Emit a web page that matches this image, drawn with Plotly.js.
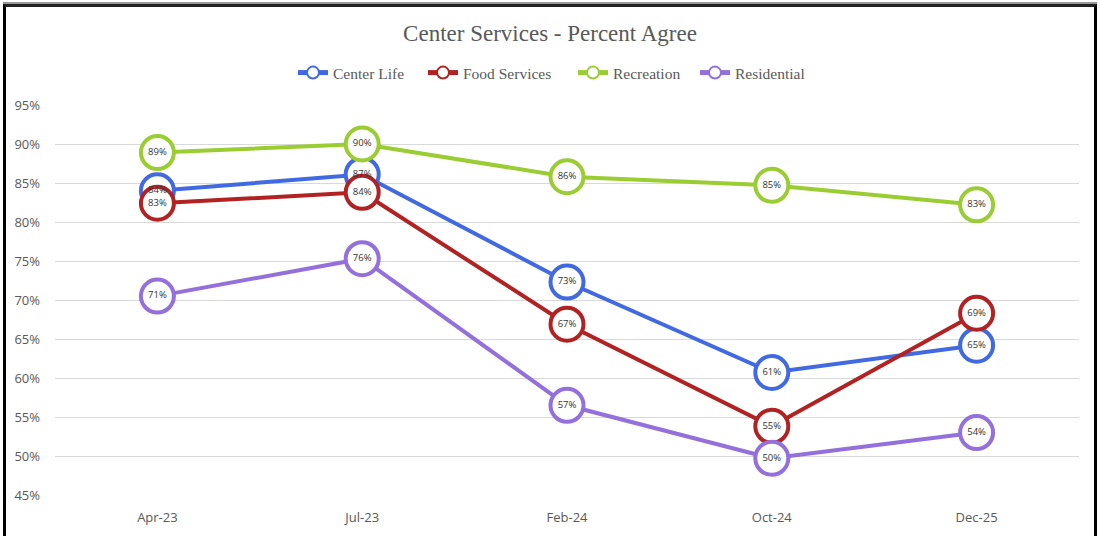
<!DOCTYPE html>
<html>
<head>
<meta charset="utf-8">
<script src="https://cdn.plot.ly/plotly-3.0.1.min.js"></script>
<style>
  html, body { margin: 0; padding: 0; background: #fff; }
  #wrap { position: relative; width: 1100px; height: 536px; overflow: hidden; }
  #chart { position: absolute; left: 0; top: 0; width: 1100px; height: 536px; }
  #frame { position: absolute; left: 3px; top: 4px; width: 1094px; height: 534px; box-sizing: border-box;
           border: 3px solid #000; border-top-color: #222; border-bottom: 2px solid #555; pointer-events: none; }
  #topline { position: absolute; left: 3px; top: 2px; width: 1094px; height: 2px; background: #999; pointer-events: none; }
</style>
</head>
<body>
<div id="wrap">
  <div id="chart"></div>
  <div id="topline"></div>
  <div id="frame"></div>
</div>
<script>
// ---- data ----
var categories = ['Apr-23', 'Jul-23', 'Feb-24', 'Oct-24', 'Dec-25'];
var seriesNames = ['Center Life', 'Food Services', 'Recreation', 'Residential'];
var centerLife = [84.0, 86.1, 72.3, 60.7, 64.2];
var centerLifeLabels = ['84%', '87%', '73%', '61%', '65%'];
var foodServices = [82.4, 83.8, 66.9, 53.8, 68.3];
var foodServicesLabels = ['83%', '84%', '67%', '55%', '69%'];
var recreation = [88.9, 90.0, 85.8, 84.7, 82.2];
var recreationLabels = ['89%', '90%', '86%', '85%', '83%'];
var residential = [70.5, 75.3, 56.5, 49.7, 53.0];
var residentialLabels = ['71%', '76%', '57%', '50%', '54%'];
var yTicks = [45, 50, 55, 60, 65, 70, 75, 80, 85, 90, 95];
var yTickText = yTicks.map(function (v) { return v + '%'; });

var colors = ['#4169E1', '#B22222', '#9ACD32', '#9370DB'];
var values = [centerLife, foodServices, recreation, residential];
var labels = [centerLifeLabels, foodServicesLabels, recreationLabels, residentialLabels];
var legendIds = ['legend', 'legend2', 'legend3', 'legend4'];
var legendLeft = [298, 428, 578, 700];

var traces = [];
for (var i = 0; i < 4; i++) {
  traces.push({
    type: 'scatter', mode: 'lines+markers', name: seriesNames[i], legend: legendIds[i],
    x: categories, y: values[i],
    line: { color: colors[i], width: 4 },
    marker: { symbol: 'circle', size: 33, color: '#ffffff', line: { color: colors[i], width: 4 } },
    hoverinfo: 'skip', cliponaxis: false
  });
}
for (var j = 0; j < 4; j++) {
  traces.push({
    type: 'scatter', mode: 'text', showlegend: false,
    x: categories, y: values[j], text: labels[j],
    textposition: 'middle center',
    textfont: { family: 'Open Sans, Liberation Sans, sans-serif', size: 9.5, color: '#333333' },
    hoverinfo: 'skip', cliponaxis: false
  });
}

var layout = {
  width: 1100, height: 536,
  margin: { l: 55, r: 21, t: 105, b: 41 },
  paper_bgcolor: '#ffffff', plot_bgcolor: '#ffffff',
  showlegend: true,
  title: {
    text: 'Center Services - Percent Agree',
    font: { family: 'Liberation Serif, Times New Roman, serif', size: 23, color: '#595959' },
    x: 0.5, xref: 'container', xanchor: 'center',
    y: 1 - 33 / 536, yref: 'container', yanchor: 'middle'
  },
  xaxis: {
    type: 'category', categoryorder: 'array', categoryarray: categories,
    range: [-0.5, 4.5], showgrid: false, zeroline: false, showline: false,
    ticks: '', ticklabelstandoff: 13,
    tickfont: { family: 'Open Sans, sans-serif', size: 13, color: '#595959' },
    fixedrange: true
  },
  yaxis: {
    range: [45, 95], tickmode: 'array', tickvals: yTicks, ticktext: yTickText,
    showgrid: true, gridcolor: '#d9d9d9', gridwidth: 1,
    zeroline: false, showline: false, ticks: '', ticklabelstandoff: 14,
    tickfont: { family: 'Open Sans, sans-serif', size: 13, color: '#595959' },
    fixedrange: true
  }
};
for (var k = 0; k < 4; k++) {
  layout[legendIds[k]] = {
    orientation: 'h', xref: 'container', yref: 'container',
    x: (legendLeft[k] - 5) / 1100, xanchor: 'left', y: 1 - 73 / 536, yanchor: 'middle',
    font: { family: 'Liberation Serif, Times New Roman, serif', size: 15.5, color: '#595959' },
    itemsizing: 'constant', itemwidth: 30,
    bgcolor: 'rgba(0,0,0,0)', borderwidth: 0
  };
}

Plotly.newPlot('chart', traces, layout, { displayModeBar: false, staticPlot: true });
</script>
</body>
</html>
